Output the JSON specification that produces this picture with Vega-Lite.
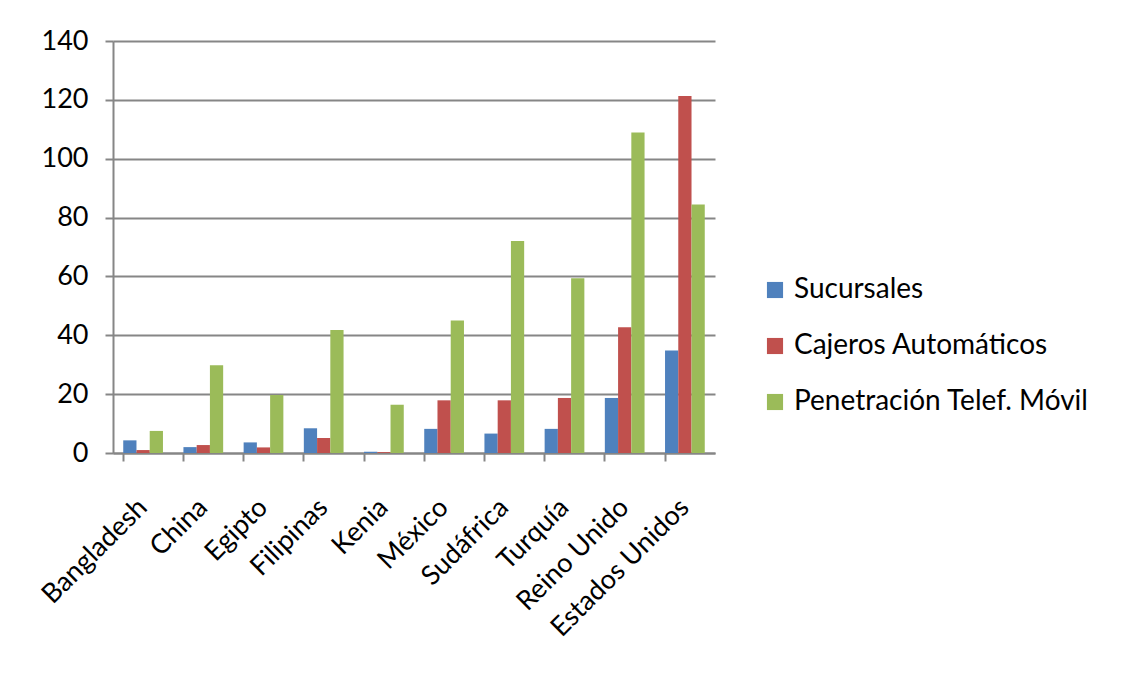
{
  "$schema": "https://vega.github.io/schema/vega-lite/v6.json",
  "width": 602,
  "height": 412,
  "autosize": "none",
  "padding": {"left": 113, "top": 41, "right": 411, "bottom": 227},
  "background": "white",
  "data": {
    "values": [
      {"pais": "Bangladesh", "serie": "Sucursales", "valor": 4.3},
      {"pais": "Bangladesh", "serie": "Cajeros Automáticos", "valor": 1.0},
      {"pais": "Bangladesh", "serie": "Penetración Telef. Móvil", "valor": 7.5},
      {"pais": "China", "serie": "Sucursales", "valor": 2.0},
      {"pais": "China", "serie": "Cajeros Automáticos", "valor": 2.7},
      {"pais": "China", "serie": "Penetración Telef. Móvil", "valor": 29.8},
      {"pais": "Egipto", "serie": "Sucursales", "valor": 3.6},
      {"pais": "Egipto", "serie": "Cajeros Automáticos", "valor": 1.9},
      {"pais": "Egipto", "serie": "Penetración Telef. Móvil", "valor": 19.7},
      {"pais": "Filipinas", "serie": "Sucursales", "valor": 8.4},
      {"pais": "Filipinas", "serie": "Cajeros Automáticos", "valor": 5.1},
      {"pais": "Filipinas", "serie": "Penetración Telef. Móvil", "valor": 41.8},
      {"pais": "Kenia", "serie": "Sucursales", "valor": 0.4},
      {"pais": "Kenia", "serie": "Cajeros Automáticos", "valor": 0.3},
      {"pais": "Kenia", "serie": "Penetración Telef. Móvil", "valor": 16.4},
      {"pais": "México", "serie": "Sucursales", "valor": 8.2},
      {"pais": "México", "serie": "Cajeros Automáticos", "valor": 17.9},
      {"pais": "México", "serie": "Penetración Telef. Móvil", "valor": 45.0},
      {"pais": "Sudáfrica", "serie": "Sucursales", "valor": 6.6},
      {"pais": "Sudáfrica", "serie": "Cajeros Automáticos", "valor": 17.9},
      {"pais": "Sudáfrica", "serie": "Penetración Telef. Móvil", "valor": 72.0},
      {"pais": "Turquía", "serie": "Sucursales", "valor": 8.2},
      {"pais": "Turquía", "serie": "Cajeros Automáticos", "valor": 18.7},
      {"pais": "Turquía", "serie": "Penetración Telef. Móvil", "valor": 59.4},
      {"pais": "Reino Unido", "serie": "Sucursales", "valor": 18.7},
      {"pais": "Reino Unido", "serie": "Cajeros Automáticos", "valor": 42.7},
      {"pais": "Reino Unido", "serie": "Penetración Telef. Móvil", "valor": 108.9},
      {"pais": "Estados Unidos", "serie": "Sucursales", "valor": 34.8},
      {"pais": "Estados Unidos", "serie": "Cajeros Automáticos", "valor": 121.3},
      {"pais": "Estados Unidos", "serie": "Penetración Telef. Móvil", "valor": 84.4}
    ]
  },
  "mark": {"type": "bar"},
  "encoding": {
    "x": {
      "field": "pais",
      "type": "nominal",
      "sort": null,
      "scale": {"paddingInner": 0.34, "paddingOuter": 0.17},
      "axis": {
        "title": null,
        "labelAngle": -45,
        "labelFont": "Lato",
        "labelFontSize": 27,
        "labelColor": "#000000",
        "labelPadding": 42,
        "labelBaseline": "middle",
        "labelLimit": 0,
        "bandPosition": 0,
        "domainColor": "#868686",
        "domainWidth": 2,
        "tickColor": "#868686",
        "tickWidth": 2,
        "tickSize": 8,
        "grid": false
      }
    },
    "xOffset": {
      "field": "serie",
      "type": "nominal",
      "sort": ["Sucursales", "Cajeros Automáticos", "Penetración Telef. Móvil"]
    },
    "y": {
      "field": "valor",
      "type": "quantitative",
      "scale": {"domain": [0, 140], "nice": false},
      "axis": {
        "title": null,
        "values": [0, 20, 40, 60, 80, 100, 120, 140],
        "labelFont": "Lato",
        "labelFontSize": 27,
        "labelColor": "#000000",
        "labelPadding": 17,
        "domainColor": "#868686",
        "domainWidth": 2,
        "tickColor": "#868686",
        "tickWidth": 2,
        "tickSize": 8,
        "gridColor": "#868686",
        "gridWidth": 2
      }
    },
    "color": {
      "field": "serie",
      "type": "nominal",
      "sort": ["Sucursales", "Cajeros Automáticos", "Penetración Telef. Móvil"],
      "scale": {
        "domain": ["Sucursales", "Cajeros Automáticos", "Penetración Telef. Móvil"],
        "range": ["#4F81BD", "#C0504D", "#9BBB59"]
      },
      "legend": {
        "title": null,
        "orient": "none",
        "legendX": 648,
        "legendY": 235,
        "symbolType": "square",
        "symbolSize": 260,
        "symbolStrokeWidth": 0,
        "labelFont": "Lato",
        "labelFontSize": 28,
        "labelLimit": 0,
        "labelColor": "#000000",
        "labelOffset": 5,
        "rowPadding": 28
      }
    }
  },
  "config": {
    "view": {"stroke": null}
  }
}
